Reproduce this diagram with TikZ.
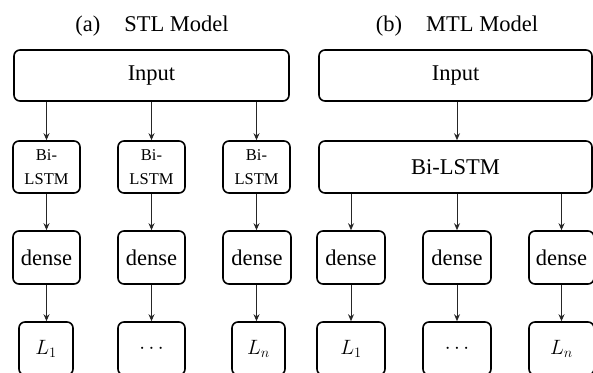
\documentclass[tikz,border=0pt]{standalone}
\usepackage{fontspec}
\setmainfont{Liberation Serif}
\usetikzlibrary{arrows.meta}

\tikzset{
  blk/.style={draw=black, line width=1.6pt, rounded corners=6pt, inner sep=0pt,
              align=center, font=\fontsize{22.5}{24}\selectfont},
  smallblk/.style={blk, font=\fontsize{16.5}{23.3}\selectfont},
  arr/.style={draw=black!85, line width=0.9pt, -{Stealth[length=7pt,width=6pt]}},
  ttl/.style={anchor=base, inner sep=0pt, font=\fontsize{22.5}{24}\selectfont},
}

\begin{document}
\begin{tikzpicture}[x=1pt, y=-1pt]
\useasboundingbox (0,0) rectangle (593,372);
\clip (0,0) rectangle (593,372);

% ---- (a) single-task model ----
\node[ttl] (ta) at (152,31) {(a)\hspace{24pt}STL Model};

\node[blk, minimum width=275pt, minimum height=51pt] (inA) at (151.5,75.5) {Input};

\node[smallblk, minimum width=67pt, minimum height=52pt] (b1) at (46.5,167) {Bi-\\LSTM};
\node[smallblk, minimum width=67pt, minimum height=52pt] (b2) at (151.5,167) {Bi-\\LSTM};
\node[smallblk, minimum width=67pt, minimum height=52pt] (b3) at (256.5,167) {Bi-\\LSTM};

\node[blk, minimum width=67pt, minimum height=53pt] (d1) at (46.5,257.5) {dense};
\node[blk, minimum width=67pt, minimum height=53pt] (d2) at (151.5,257.5) {dense};
\node[blk, minimum width=68pt, minimum height=53pt] (d3) at (257,257.5) {dense};

\node[blk, minimum width=54pt, minimum height=53pt] (l1) at (46,348.5) {$L_1$};
\node[blk, minimum width=67pt, minimum height=53pt] (l2) at (151.5,348.5) {$\cdots$};
\node[blk, minimum width=53pt, minimum height=53pt] (l3) at (258.5,348.5) {$L_n$};

\foreach \i in {1,2,3} {
  \draw[arr] (b\i.north |- inA.south) -- (b\i.north);
  \draw[arr] (b\i.south) -- (b\i.south |- d\i.north);
  \draw[arr] (b\i.south |- d\i.south) -- (b\i.south |- l\i.north);
}

% ---- (b) multi-task model ----
\node[ttl] (tb) at (457,31) {(b)\hspace{24pt}MTL Model};

\node[blk, minimum width=273pt, minimum height=51pt] (inB) at (455.5,75.5) {Input};
\node[blk, minimum width=273pt, minimum height=52pt] (bB) at (455.5,167) {Bi-LSTM};

\node[blk, minimum width=68pt, minimum height=53pt] (e1) at (351,257.5) {dense};
\node[blk, minimum width=68pt, minimum height=53pt] (e2) at (457,257.5) {dense};
\node[blk, minimum width=65pt, minimum height=53pt] (e3) at (561.5,257.5) {dense};

\node[blk, minimum width=68pt, minimum height=53pt] (m1) at (351,348.5) {$L_1$};
\node[blk, minimum width=68pt, minimum height=53pt] (m2) at (457,348.5) {$\cdots$};
\node[blk, minimum width=65pt, minimum height=53pt] (m3) at (561.5,348.5) {$L_n$};

\draw[arr] (inB.south -| e2.north) -- (bB.north -| e2.north);
\foreach \i in {1,2,3} {
  \draw[arr] (e\i.north |- bB.south) -- (e\i.north);
  \draw[arr] (e\i.south) -- (m\i.north);
}
\end{tikzpicture}
\end{document}
